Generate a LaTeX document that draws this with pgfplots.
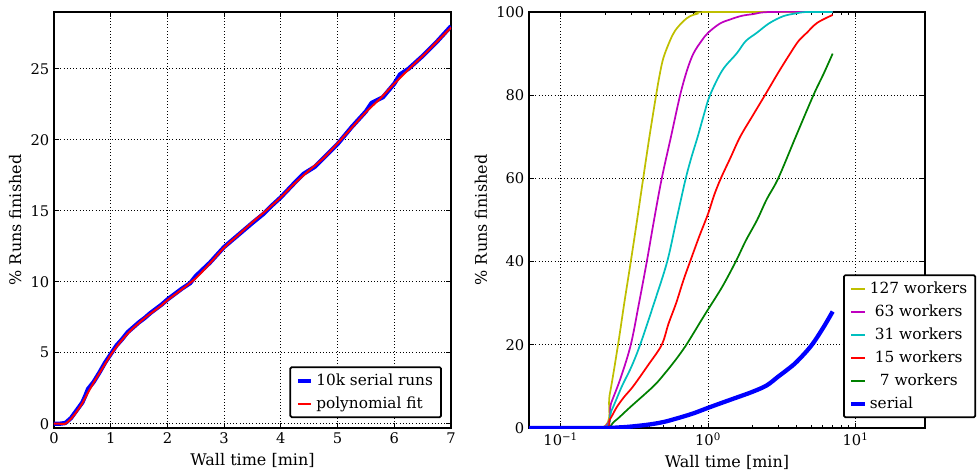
\documentclass[border=0pt]{standalone}
\usepackage{fontspec}
\setmainfont{DejaVu Serif}
\usepackage{pgfplots}
\pgfplotsset{compat=1.18}

\definecolor{mplblue}{rgb}{0,0,1}
\definecolor{mplred}{rgb}{1,0,0}
\definecolor{mplgreen}{rgb}{0,0.5,0}
\definecolor{mplcyan}{rgb}{0,0.75,0.75}
\definecolor{mplmag}{rgb}{0.75,0,0.75}
\definecolor{mplyel}{rgb}{0.75,0.75,0}

\newcommand{\tickfont}{\fontsize{11}{13}\selectfont}
\newcommand{\labfont}{\fontsize{12}{14}\selectfont}
\newcommand{\legfont}{\fontsize{11.5}{13.5}\selectfont}

\pgfplotsset{
  mplstyle/.style={
    scale only axis,
    anchor=south west,
    /pgf/number format/assume math mode=true,
    every tick label/.append style={font=\tickfont},
    every axis label/.append style={font=\labfont},
    axis line style={line width=1.3pt},
    major tick length=4pt, minor tick length=2pt,
    tick style={black, line width=0.6pt},
    grid=major,
    major grid style={dotted, black, line width=0.8pt},
    legend cell align=left,
    legend image code/.code={\draw[#1] (0cm,0cm) -- (0.36cm,0cm);},
    legend style={font=\legfont, draw=black, line width=1.3pt,
      rounded corners=1pt, fill=white, row sep=3pt, inner xsep=4pt, inner ysep=3pt},
  }
}

\begin{document}
\begin{tikzpicture}
% left: serial runs with fit
\begin{axis}[mplstyle,
  at={(0,0)},
  width=297.75pt, height=312pt,
  xmin=0, xmax=7, ymin=-0.3, ymax=29,
  xtick={0,1,2,3,4,5,6,7},
  ytick={0,5,10,15,20,25},
  xlabel={Wall time [min]},
  ylabel={\% Runs finished},
  legend style={at={(rel axis cs:0.977,0.024)}, anchor=south east},
]
\addplot[mplblue, line width=3.2pt, line join=round] coordinates {
(0,0)(0.1,0)(0.2,0.05)(0.3,0.4)(0.4,0.95)(0.5,1.5)(0.55,1.95)(0.6,2.45)(0.7,2.95)(0.8,3.6)
(0.9,4.3)(1.0,4.9)(1.1,5.5)(1.2,5.95)(1.3,6.45)(1.4,6.8)(1.5,7.15)(1.6,7.45)(1.7,7.8)
(1.8,8.1)(1.9,8.4)(2.0,8.75)(2.25,9.5)(2.4,9.9)(2.5,10.4)(2.75,11.35)(3.0,12.45)(3.25,13.3)
(3.5,14.15)(3.7,14.8)(3.85,15.4)(4.0,15.95)(4.25,17.0)(4.4,17.6)(4.6,18.1)(4.75,18.7)
(5.0,19.7)(5.25,20.9)(5.5,22.0)(5.6,22.6)(5.8,23.0)(6.0,23.95)(6.1,24.6)(6.25,25.0)
(6.5,25.9)(6.75,26.9)(7.0,28.0)
};
\addlegendentry{10k serial runs}
\addplot[mplred, line width=1.5pt, smooth] coordinates {
(0,0)(0.1,0)(0.2,0.0)(0.3,0.35)(0.4,0.85)(0.5,1.45)(0.6,2.2)(0.7,2.9)(0.8,3.55)(0.9,4.2)
(1.0,4.85)(1.1,5.4)(1.2,5.9)(1.3,6.35)(1.4,6.75)(1.5,7.1)(1.6,7.45)(1.7,7.75)(1.8,8.05)
(1.9,8.35)(2.0,8.7)(2.25,9.45)(2.5,10.25)(2.75,11.3)(3.0,12.4)(3.25,13.3)(3.5,14.2)
(3.75,15.05)(4.0,15.95)(4.25,16.95)(4.5,17.85)(4.75,18.7)(5.0,19.75)(5.25,20.85)
(5.5,21.95)(5.75,22.9)(6.0,23.95)(6.25,24.95)(6.5,25.9)(6.75,26.9)(7.0,27.9)
};
\addlegendentry{polynomial fit}
\end{axis}

% right: parallel workers, log time axis
\begin{axis}[mplstyle,
  at={(356.25pt,0)},
  width=297pt, height=312pt,
  xmode=log,
  xmin=0.061, xmax=29.6, ymin=0, ymax=100,
  xtick={0.1,1,10},
  xticklabels={10\textsuperscript{−1},10\textsuperscript{0},10\textsuperscript{1}},
  ytick={0,20,40,60,80,100},
  xlabel={Wall time [min]},
  ylabel={\% Runs finished},
  legend style={at={(rel axis cs:0.793,0.024)}, anchor=south west},
]
\addplot[mplyel, line width=1.3pt, smooth, tension=0.55] coordinates {
(0.061,0)(0.19,0)(0.215,8)(0.245,20)(0.27,30)(0.299,40)(0.33,50)(0.363,60)(0.40,70)
(0.444,80)(0.47,85)(0.498,89)(0.55,93)(0.597,95.5)(0.68,97.8)(0.755,99)(0.85,99.6)(1.0,100)(7,100)
};
\addlegendentry{127 workers}
\addplot[mplmag, line width=1.3pt, smooth, tension=0.55] coordinates {
(0.061,0)(0.19,0)(0.22,6)(0.255,12)(0.299,20)(0.34,30)(0.384,40)(0.43,50)(0.485,60)(0.56,70)
(0.646,80)(0.72,86)(0.795,90)(0.9,93)(1.0,95)(1.2,97.2)(1.41,98.2)(1.7,99.1)(2.03,99.5)(2.63,100)(7,100)
};
\addlegendentry{\hspace{0.33em}63 workers}
\addplot[mplcyan, line width=1.3pt, smooth, tension=0.55] coordinates {
(0.061,0)(0.19,0)(0.22,4)(0.26,10)(0.30,14.5)(0.346,20)(0.43,30)(0.528,40)(0.61,50)(0.70,59.5)
(0.77,65)(0.85,70)(0.94,75.5)(1.03,80)(1.25,86)(1.56,90)(1.8,93)(2.14,95)(2.6,97.3)(3.24,99)
(4.0,99.7)(4.67,100)(7,100)
};
\addlegendentry{\hspace{0.33em}31 workers}
\addplot[mplred, line width=1.3pt, smooth, tension=0.55] coordinates {
(0.061,0)(0.19,0)(0.215,2)(0.24,5)(0.27,7.5)(0.31,10)(0.39,15)(0.485,20)(0.538,25)(0.607,30)
(0.68,35.5)(0.755,40)(0.87,46)(1.0,51.5)(1.1,56)(1.22,60)(1.42,65)(1.65,70)(2.0,75)(2.43,80)
(3.0,85.5)(3.6,90)(4.1,93)(4.67,95)(5.5,97.4)(7.0,99.3)
};
\addlegendentry{\hspace{0.33em}15 workers}
\addplot[mplgreen, line width=1.3pt, smooth, tension=0.55] coordinates {
(0.061,0)(0.19,0)(0.23,1.5)(0.296,5)(0.425,10)(0.5,12.8)(0.6,16.3)(0.7,19.6)(0.8,22.9)(0.9,25.9)
(1.0,28.5)(1.25,34)(1.54,40)(1.8,45)(2.15,50)(2.5,55)(2.99,60)(3.93,70)(5.18,80)(6.05,85)(7.0,90)
};
\addlegendentry{\hspace{0.66em}7 workers}
\addplot[mplblue, line width=3.2pt, smooth, tension=0.55] coordinates {
(0.061,0)(0.19,0)(0.25,0.15)(0.3,0.35)(0.4,0.85)(0.5,1.45)(0.6,2.2)(0.7,2.9)(0.8,3.55)
(1.0,4.85)(1.25,6.1)(1.5,7.1)(2.0,8.7)(2.5,10.25)(3.0,12.4)(3.5,14.2)(4.0,15.95)(5.0,19.75)
(6.0,23.95)(7.0,28.0)
};
\addlegendentry{serial}
\end{axis}

\pgfresetboundingbox
\path[use as bounding box] (-40.5pt,-35.25pt) rectangle (693pt,321pt);
\end{tikzpicture}
\end{document}
